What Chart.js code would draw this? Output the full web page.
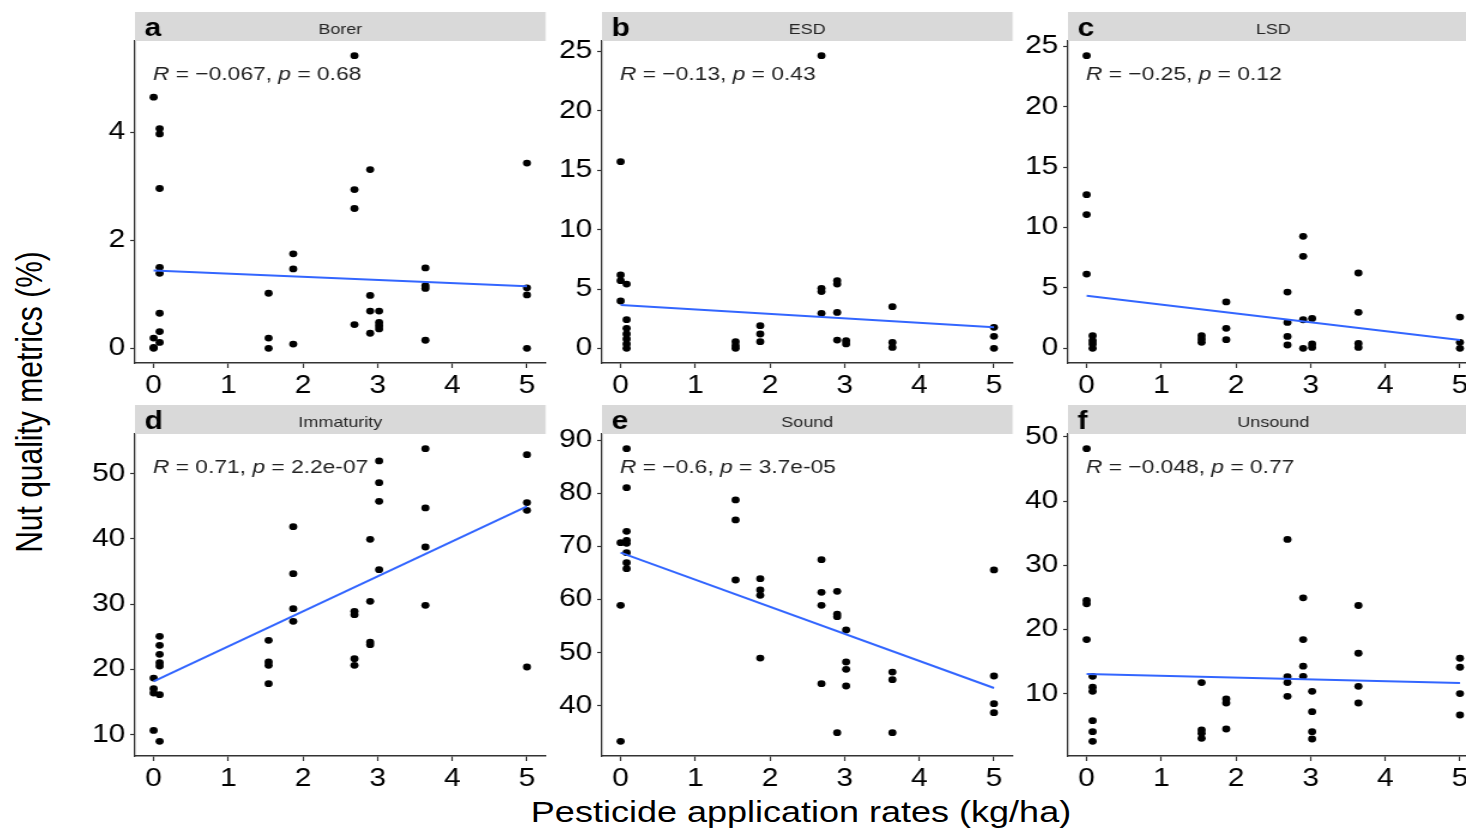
<!DOCTYPE html>
<html>
<head>
<meta charset="utf-8">
<title>Nut quality metrics vs pesticide application rates</title>
<script src="https://cdn.jsdelivr.net/npm/chart.js@4.4.1/dist/chart.umd.min.js"></script>
<style>
    html, body { margin: 0; padding: 0; background: #fff; }
    body { position: relative; width: 1466px; height: 830px; overflow: hidden; font-family: 'Liberation Sans', Arial, sans-serif; }
    canvas { position: absolute; }
    .axis-title { position: absolute; color: #000; font-size: 30px; line-height: 30px; white-space: nowrap; }
    #xTitle { left: 801px; top: 797px; transform: translateX(-50%) scaleX(1.2); }
    #yTitle { left: 30px; top: 402px; transform: translate(-50%, -50%) rotate(-90deg) scaleY(1.2); }
</style>
</head>
<body>
<div id="yTitle" class="axis-title">Nut quality metrics (%)</div>
<div id="xTitle" class="axis-title">Pesticide application rates (kg/ha)</div>

<script>
// application rates (kg/ha) shared by every panel
const rates = [0, 0.08, 1.54, 1.87, 2.69, 2.9, 3.02, 3.64, 5];

const panelNames = ['Borer', 'ESD', 'LSD', 'Immaturity', 'Sound', 'Unsound'];
const panelLetters = ['a', 'b', 'c', 'd', 'e', 'f'];
const rValues = ['\u22120.067', '\u22120.13', '\u22120.25', '0.71', '\u22120.6', '\u22120.048'];
const pValues = ['0.68', '0.43', '0.12', '2.2e-07', '3.7e-05', '0.77'];

// values (%) grouped by rate, one inner list per entry of rates
const borer = [
    [4.65, 0.19, 0.02, 0],
    [4.07, 3.97, 2.96, 1.5, 1.39, 0.65, 0.31, 0.11],
    [1.02, 0.19, 0],
    [1.75, 1.47, 0.08],
    [5.42, 2.94, 2.59, 0.44],
    [3.31, 0.98, 0.69, 0.28],
    [0.69, 0.48, 0.42, 0.36],
    [1.49, 1.16, 1.11, 0.15],
    [3.43, 1.12, 0.99, 0]
];
const esd = [
    [15.73, 6.18, 5.7, 3.99],
    [5.42, 2.42, 1.69, 1.21, 0.79, 0.37, 0],
    [0.56, 0.22, 0],
    [1.91, 1.21, 0.56],
    [24.66, 5.06, 4.78, 2.95],
    [5.7, 5.42, 3.03, 0.7],
    [0.65, 0.37],
    [3.51, 0.5, 0.08],
    [1.77, 1.01, 0]
];
const lsd = [
    [24.23, 12.72, 11.07, 6.15],
    [1.05, 0.63, 0.36, 0],
    [1.05, 0.77, 0.5],
    [3.84, 1.66, 0.72],
    [4.66, 2.15, 0.99, 0.28],
    [9.27, 7.62, 2.37, 0],
    [2.48, 0.36, 0.08],
    [6.24, 2.98, 0.41, 0.08],
    [2.59, 0.5, 0]
];
const immaturity = [
    [18.68, 17.05, 16.39, 10.66],
    [25.07, 23.69, 22.31, 21.03, 20.52, 16.13, 8.98],
    [24.46, 21.14, 20.63, 17.82],
    [41.88, 34.67, 29.31, 27.37],
    [28.9, 28.39, 21.65, 20.63],
    [39.94, 30.43, 24.2, 23.79],
    [51.94, 48.62, 45.76, 35.29],
    [53.83, 44.74, 38.76, 29.82],
    [52.91, 45.56, 44.38, 20.37]
];
const sound = [
    [70.72, 58.91, 33.28],
    [88.43, 81.08, 72.85, 71.16, 70.6, 68.83, 66.95, 65.82],
    [78.76, 74.99, 63.68],
    [63.93, 61.8, 60.79, 48.98],
    [67.51, 61.36, 58.91, 44.15],
    [61.55, 57.27, 56.77, 34.91],
    [54.26, 48.23, 46.85, 43.71],
    [46.34, 44.9, 34.91],
    [65.57, 45.59, 40.38, 38.68]
];
const unsound = [
    [48.18, 24.51, 23.99, 18.43],
    [12.7, 10.99, 10.36, 5.79, 4.07, 2.56],
    [11.72, 4.33, 3.81, 3.03],
    [9.17, 8.54, 4.49],
    [34.03, 12.65, 11.72, 9.58],
    [24.93, 18.43, 14.27, 12.7],
    [10.36, 7.19, 4.07, 2.93],
    [23.73, 16.29, 11.14, 8.54],
    [15.51, 14.11, 10, 6.67]
];
const panelData = [borer, esd, lsd, immaturity, sound, unsound];

// fitted regression line at rate 0 and rate 5
const fitStart = [1.44, 3.65, 4.36, 18.17, 68.83, 13.07];
const fitEnd = [1.15, 1.77, 0.69, 44.99, 43.33, 11.66];

const xTicks = [0, 1, 2, 3, 4, 5];
const yTicks = [
    [0, 2, 4],
    [0, 5, 10, 15, 20, 25],
    [0, 5, 10, 15, 20, 25],
    [10, 20, 30, 40, 50],
    [40, 50, 60, 70, 80, 90],
    [10, 20, 30, 40, 50]
];

// layout, in page pixels
const SX = 1.2;            // the source figure is stretched sideways
const COL_LEFT = [135, 602, 1068];
const STRIP_TOP = [12, 405];
const Y_AXIS_W = 60;
const PLOT_W = 411;
const PLOT_H = 322;
const STRIP_H = 29;
const X_AXIS_H = 45;
const CANVAS_W = 402;      // canvas buffer width
const FONT = '"Liberation Sans", Arial, sans-serif';

const facetPlugin = {
    id: 'facet',
    afterDraw(chart, args, opts) {
        const ctx = chart.ctx;
        const area = chart.chartArea;
        const w = area.right - area.left;
        ctx.save();
        ctx.fillStyle = '#D9D9D9';
        ctx.fillRect(area.left, area.top - STRIP_H, w, STRIP_H);

        ctx.fillStyle = '#262626';
        ctx.font = '15px ' + FONT;
        ctx.textAlign = 'center';
        ctx.textBaseline = 'alphabetic';
        ctx.fillText(opts.name, area.left + w / 2, area.top - 7);

        ctx.textAlign = 'left';
        ctx.fillStyle = '#000';
        ctx.font = 'bold 25px ' + FONT;
        ctx.fillText(opts.letter, area.left + 8, area.top - 5);

        const parts = [['R', true], [' = ' + opts.r + ', ', false], ['p', true], [' = ' + opts.p, false]];
        let x = area.left + 15;
        ctx.fillStyle = '#222';
        parts.forEach(([text, italic]) => {
            ctx.font = (italic ? 'italic ' : '') + '19px ' + FONT;
            ctx.fillText(text, x, area.top + 39);
            x += ctx.measureText(text).width;
        });
        ctx.restore();
    }
};

function toPoints(groups) {
    const pts = [];
    groups.forEach((ys, i) => {
        ys.forEach(y => pts.push({ x: rates[i], y: y }));
    });
    return pts;
}

function makePanel(i) {
    const col = i % 3;
    const row = Math.floor(i / 3);
    const pts = toPoints(panelData[i]);

    // ggplot-like 5% expansion of the data range
    const ys = pts.map(p => p.y);
    const lo = Math.min(...ys);
    const hi = Math.max(...ys);
    const pad = (hi - lo) * 0.05;

    const yW = Y_AXIS_W / SX;
    const plotW = PLOT_W / SX;
    const height = STRIP_H + PLOT_H + X_AXIS_H;

    const canvas = document.createElement('canvas');
    canvas.width = CANVAS_W;
    canvas.height = height;
    canvas.style.width = (CANVAS_W * SX) + 'px';
    canvas.style.height = height + 'px';
    canvas.style.left = (COL_LEFT[col] - Y_AXIS_W) + 'px';
    canvas.style.top = STRIP_TOP[row] + 'px';
    document.body.appendChild(canvas);

    const tickFont = { family: FONT, size: 25 };

    new Chart(canvas, {
        type: 'scatter',
        data: {
            datasets: [{
                data: [{ x: 0, y: fitStart[i] }, { x: 5, y: fitEnd[i] }],
                showLine: true,
                borderColor: '#3366FF',
                borderWidth: 2,
                pointRadius: 0,
                order: 0
            }, {
                data: pts,
                backgroundColor: '#000',
                borderWidth: 0,
                pointRadius: 3.4,
                order: 1
            }]
        },
        options: {
            responsive: false,
            animation: false,
            events: [],
            layout: { padding: { top: STRIP_H, right: CANVAS_W - yW - plotW, left: 0, bottom: 0 } },
            plugins: {
                legend: { display: false },
                tooltip: { enabled: false },
                facet: { name: panelNames[i], letter: panelLetters[i], r: rValues[i], p: pValues[i] }
            },
            scales: {
                x: {
                    type: 'linear',
                    min: -0.25,
                    max: 5.25,
                    afterBuildTicks: s => { s.ticks = xTicks.map(v => ({ value: v })); },
                    afterFit: s => { s.height = X_AXIS_H; },
                    grid: { drawOnChartArea: false, tickLength: 5, tickColor: '#333', tickWidth: 1.2 },
                    border: { color: '#333', width: 1.5 },
                    ticks: { font: tickFont, color: '#000', padding: 3, maxRotation: 0, autoSkip: false }
                },
                y: {
                    type: 'linear',
                    min: lo - pad,
                    max: hi + pad,
                    afterBuildTicks: s => { s.ticks = yTicks[i].map(v => ({ value: v })); },
                    afterFit: s => { s.width = yW; },
                    grid: { drawOnChartArea: false, tickLength: 4, tickColor: '#333', tickWidth: 1.2 },
                    border: { color: '#333', width: 1.3 },
                    ticks: { font: tickFont, color: '#000', padding: 4, autoSkip: false }
                }
            }
        },
        plugins: [facetPlugin]
    });
}

for (let i = 0; i < panelNames.length; i++) {
    makePanel(i);
}
</script>
</body>
</html>
